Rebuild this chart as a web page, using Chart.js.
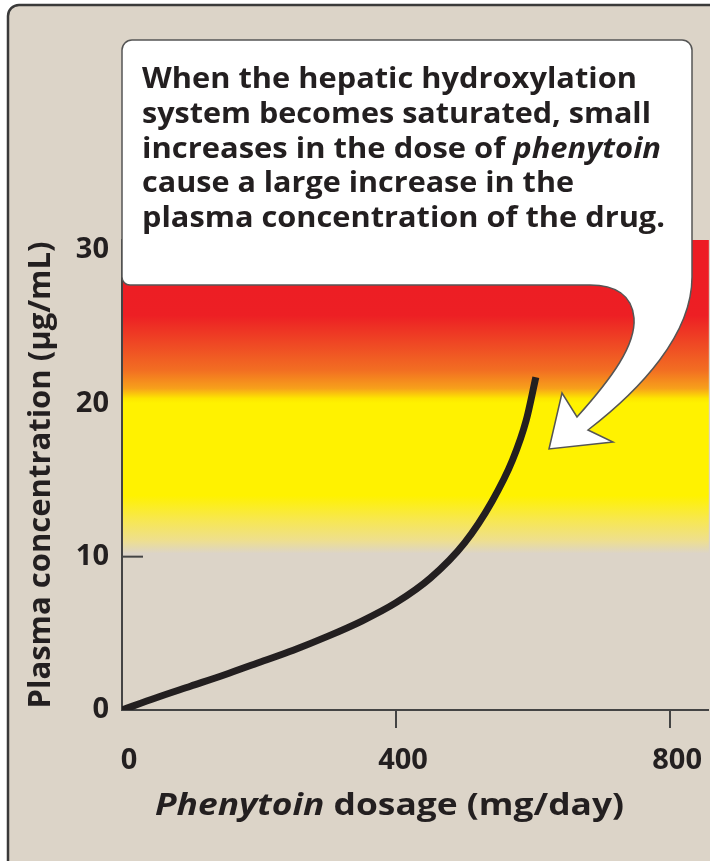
<!DOCTYPE html>
<html>
<head>
<meta charset="utf-8">
<script src="https://cdn.jsdelivr.net/npm/chart.js@4.4.1/dist/chart.umd.min.js"></script>
<style>
  html, body { margin: 0; padding: 0; background: #fff; }
  #wrap { width: 710px; height: 861px; position: relative; }
</style>
</head>
<body>
<div id="wrap"><canvas id="chart"></canvas></div>
<script>
// Phenytoin dose vs plasma concentration
var doseValues = [0, 50, 100, 150, 200, 250, 300, 350, 400, 450, 500, 540, 570, 590, 604];
var concValues = [0, 0.8, 1.55, 2.3, 3.1, 3.9, 4.8, 5.8, 7.0, 8.6, 10.9, 13.6, 16.3, 18.9, 21.7];
var xTicks = [0, 400, 800];
var yTicks = [0, 10, 20, 30];
// shaded therapeutic/toxic band, in µg/mL
var bandRange = [10.2, 30.65];
var calloutLines = [
    [['When the hepatic hydroxylation', false]],
    [['system becomes saturated, small', false]],
    [['increases in the dose of ', false], ['phenytoin', true]],
    [['cause a large increase in the', false]],
    [['plasma concentration of the drug.', false]]
];
var xTitleRuns = [['Phenytoin', true], [' dosage (mg/day)', false]];
var yTitle = 'Plasma concentration (\u00b5g/mL)';

var INK = '#231f20';
var FONT = '"Open Sans", "Noto Sans", sans-serif';

function fontFor(italic, size) {
    return (italic ? 'italic ' : '') + 'bold ' + size + 'px ' + FONT;
}

// draw a line of mixed runs, squeezed horizontally to a given width
function drawRuns(ctx, runs, x, y, width, size) {
    var total = 0;
    var widths = runs.map(function(r) {
        ctx.font = fontFor(r[1], size);
        var w = ctx.measureText(r[0]).width;
        total += w;
        return w;
    });
    ctx.save();
    ctx.translate(x, y);
    ctx.scale(width / total, 1);
    var cx = 0;
    runs.forEach(function(r, i) {
        ctx.font = fontFor(r[1], size);
        ctx.fillText(r[0], cx, 0);
        cx += widths[i];
    });
    ctx.restore();
}

var framePlugin = {
    id: 'frame',
    beforeDraw: function(chart) {
        var ctx = chart.ctx;
        ctx.save();
        ctx.fillStyle = '#ffffff';
        ctx.fillRect(0, 0, chart.width, chart.height);
        ctx.beginPath();
        ctx.moveTo(8, 900);
        ctx.lineTo(8, 16);
        ctx.arcTo(8, 5, 19, 5, 11);
        ctx.lineTo(740, 5);
        ctx.lineTo(740, 900);
        ctx.closePath();
        ctx.fillStyle = '#dcd4c8';
        ctx.fill();
        ctx.strokeStyle = '#3a3a3a';
        ctx.lineWidth = 2.5;
        ctx.stroke();
        ctx.restore();
    }
};

var bandPlugin = {
    id: 'band',
    beforeDatasetsDraw: function(chart) {
        var ctx = chart.ctx;
        var area = chart.chartArea;
        var ys = chart.scales.y;
        ctx.save();
        // inward tick marks on the y axis
        ctx.strokeStyle = '#444';
        ctx.lineWidth = 2;
        yTicks.forEach(function(v) {
            if (v === 0) return;
            var py = ys.getPixelForValue(v);
            ctx.beginPath();
            ctx.moveTo(area.left, py);
            ctx.lineTo(area.left + 21, py);
            ctx.stroke();
        });
        var top = ys.getPixelForValue(bandRange[1]);
        var bottom = ys.getPixelForValue(bandRange[0]);
        var g = ctx.createLinearGradient(0, top, 0, bottom);
        g.addColorStop(0, '#ed1c24');
        g.addColorStop(0.24, '#ed1f24');
        g.addColorStop(0.335, '#ef4a24');
        g.addColorStop(0.415, '#f26e22');
        g.addColorStop(0.473, '#f7a01b');
        g.addColorStop(0.505, '#fde600');
        g.addColorStop(0.52, '#fff200');
        g.addColorStop(0.815, '#fff200');
        g.addColorStop(0.895, '#f7e753');
        g.addColorStop(0.958, '#eedf8e');
        g.addColorStop(1, '#dcd4c8');
        ctx.fillStyle = g;
        ctx.fillRect(area.left + 1, top, area.right - area.left, bottom - top);
        ctx.restore();
    }
};

var calloutPlugin = {
    id: 'callout',
    afterDraw: function(chart) {
        var ctx = chart.ctx;
        ctx.save();
        ctx.beginPath();
        ctx.moveTo(122, 50);
        ctx.arcTo(122, 40, 132, 40, 10);
        ctx.lineTo(682, 40);
        ctx.arcTo(692, 40, 692, 50, 10);
        ctx.lineTo(692, 277);
        ctx.bezierCurveTo(692, 335, 640, 390, 588, 430);
        ctx.lineTo(613, 442);
        ctx.lineTo(549, 449);
        ctx.lineTo(562, 393);
        ctx.lineTo(577, 417);
        ctx.bezierCurveTo(612, 378, 636, 345, 634, 318);
        ctx.bezierCurveTo(632, 295, 615, 285, 590, 285);
        ctx.lineTo(130, 285);
        ctx.arcTo(122, 285, 122, 277, 8);
        ctx.closePath();
        ctx.fillStyle = '#ffffff';
        ctx.fill();
        ctx.strokeStyle = '#555';
        ctx.lineWidth = 1.5;
        ctx.stroke();

        ctx.fillStyle = INK;
        ctx.textBaseline = 'alphabetic';
        ctx.textAlign = 'left';
        var lineWidths = [495, 509, 519, 432, 523];
        calloutLines.forEach(function(runs, i) {
            drawRuns(ctx, runs, 142, 88 + i * 34.8, lineWidths[i], 29);
        });

        // x axis title with italic drug name
        drawRuns(ctx, xTitleRuns, 155, 815, 469, 30);
        ctx.restore();
    }
};

var ctx = document.getElementById('chart').getContext('2d');
new Chart(ctx, {
    type: 'scatter',
    data: {
        datasets: [{
            data: doseValues.map(function(d, i) { return {x: d, y: concValues[i]}; }),
            showLine: true,
            borderColor: INK,
            borderWidth: 7,
            pointRadius: 0,
            cubicInterpolationMode: 'monotone',
            borderCapStyle: 'butt'
        }]
    },
    options: {
        responsive: true,
        maintainAspectRatio: false,
        animation: false,
        layout: { padding: { top: 240, left: 0, right: 0, bottom: 0 } },
        plugins: {
            legend: { display: false },
            tooltip: { enabled: false }
        },
        scales: {
            x: {
                type: 'linear',
                min: 0,
                max: 855,
                afterFit: function(scale) { scale.height = 151; },
                afterBuildTicks: function(scale) {
                    scale.ticks = xTicks.map(function(v) { return {value: v}; });
                },
                grid: {
                    drawOnChartArea: false,
                    drawTicks: true,
                    tickLength: 18,
                    lineWidth: 2,
                    color: function(c) {
                        return c.tick && c.tick.value === 0 ? 'rgba(0,0,0,0)' : '#444';
                    }
                },
                border: { display: true, color: '#444', width: 2 },
                ticks: {
                    color: INK,
                    font: { family: FONT, size: 29, weight: 'bold' },
                    padding: 15,
                    labelOffset: 7,
                    maxRotation: 0
                }
            },
            y: {
                type: 'linear',
                min: 0,
                max: bandRange[1],
                afterFit: function(scale) { scale.width = 122; },
                afterBuildTicks: function(scale) {
                    scale.ticks = yTicks.map(function(v) { return {value: v}; });
                },
                grid: { display: false },
                border: { display: true, color: '#444', width: 2 },
                ticks: {
                    color: INK,
                    font: { family: FONT, size: 29, weight: 'bold' },
                    padding: 5
                },
                title: {
                    display: true,
                    text: yTitle,
                    color: INK,
                    font: { family: FONT, size: 31, weight: 'bold' },
                    padding: { top: 23, bottom: 0 }
                }
            }
        }
    },
    plugins: [framePlugin, bandPlugin, calloutPlugin]
});
</script>
</body>
</html>
